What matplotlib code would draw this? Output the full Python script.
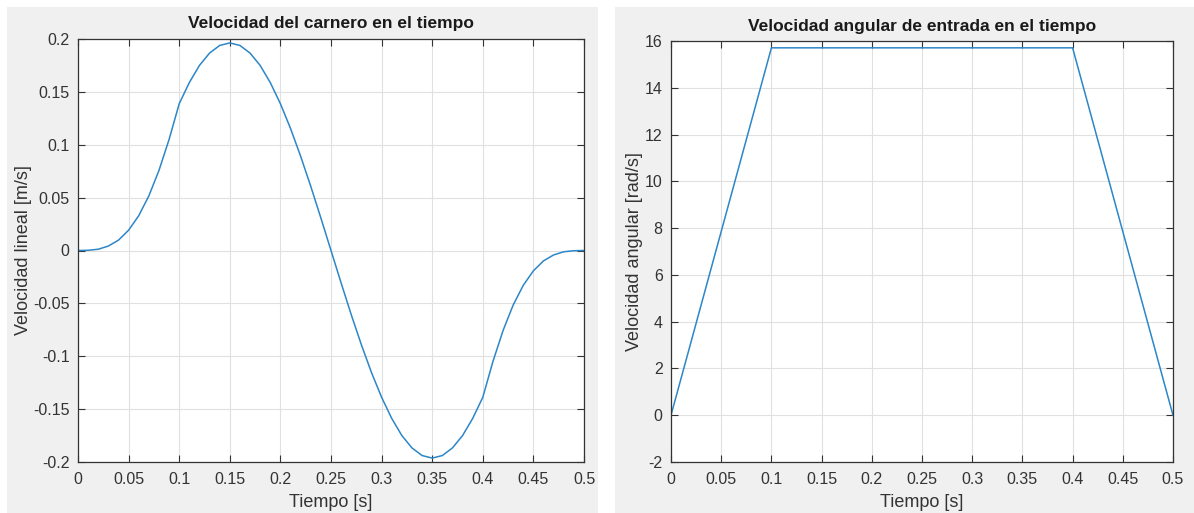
import matplotlib.pyplot as plt
from matplotlib.patches import Rectangle

# Velocidad del carnero (lectura del grafico, cada 0.01 s)
t_lin = [0.00, 0.01, 0.02, 0.03, 0.04, 0.05, 0.06, 0.07, 0.08, 0.09,
         0.10, 0.11, 0.12, 0.13, 0.14, 0.15, 0.16, 0.17, 0.18, 0.19,
         0.20, 0.21, 0.22, 0.23, 0.24, 0.25, 0.26, 0.27, 0.28, 0.29,
         0.30, 0.31, 0.32, 0.33, 0.34, 0.35, 0.36, 0.37, 0.38, 0.39,
         0.40, 0.41, 0.42, 0.43, 0.44, 0.45, 0.46, 0.47, 0.48, 0.49, 0.50]
v_lin = [0.0, 0.0002, 0.0012, 0.0042, 0.0098, 0.0192, 0.0329, 0.0516, 0.0757, 0.1050,
         0.1388, 0.1588, 0.1750, 0.1867, 0.1939, 0.1963, 0.1939, 0.1867, 0.1750, 0.1588,
         0.1388, 0.1154, 0.0891, 0.0607, 0.0307, 0.0, -0.0307, -0.0607, -0.0891, -0.1154,
         -0.1388, -0.1588, -0.1750, -0.1867, -0.1939, -0.1963, -0.1939, -0.1867, -0.1750, -0.1588,
         -0.1388, -0.1050, -0.0757, -0.0516, -0.0329, -0.0192, -0.0098, -0.0042, -0.0012, -0.0002, 0.0]

# Velocidad angular de entrada
t_ang = [0.0, 0.1, 0.4, 0.5]
w_ang = [0.0, 15.708, 15.708, 0.0]

x_ticks = [0, 0.05, 0.1, 0.15, 0.2, 0.25, 0.3, 0.35, 0.4, 0.45, 0.5]
x_labels = ['0', '0.05', '0.1', '0.15', '0.2', '0.25', '0.3', '0.35', '0.4', '0.45', '0.5']
y1_ticks = [-0.2, -0.15, -0.1, -0.05, 0, 0.05, 0.1, 0.15, 0.2]
y1_labels = ['-0.2', '-0.15', '-0.1', '-0.05', '0', '0.05', '0.1', '0.15', '0.2']
y2_ticks = [-2, 0, 2, 4, 6, 8, 10, 12, 14, 16]
y2_labels = ['-2', '0', '2', '4', '6', '8', '10', '12', '14', '16']

plt.rcParams['font.family'] = ['Liberation Sans', 'DejaVu Sans']

W, H = 1194, 513
fig = plt.figure(figsize=(W / 100, H / 100), dpi=100)
fig.patch.set_facecolor('white')

# fondos grises estilo MATLAB
for x0, x1 in [(7, 598), (615, 1194)]:
    fig.add_artist(Rectangle((x0 / W, 0), (x1 - x0) / W, (H - 7) / H,
                             transform=fig.transFigure, facecolor='#F0F0F0',
                             edgecolor='none', zorder=-10))


def style(ax, yt, yl):
    ax.set_xticks(x_ticks)
    ax.set_xticklabels(x_labels)
    ax.set_yticks(yt)
    ax.set_yticklabels(yl)
    ax.tick_params(direction='in', top=True, right=True, length=5, width=0.8,
                   colors='#333333', labelsize=11.5)
    ax.tick_params(axis='x', pad=7)
    ax.tick_params(axis='y', pad=6)
    for s in ax.spines.values():
        s.set_color('#333333')
        s.set_linewidth(0.9)
    ax.grid(True, color='#E0E0E0', linewidth=0.8)
    ax.set_axisbelow(True)
    ax.set_xlabel('Tiempo [s]', fontsize=13, color='#333333', labelpad=5)


ax1 = fig.add_axes([78 / W, (H - 462) / H, (584 - 78) / W, (462 - 39) / H])
ax1.plot(t_lin, v_lin, color='#2C86C8', linewidth=1.1)
ax1.set_xlim(0, 0.5)
ax1.set_ylim(-0.2, 0.2)
style(ax1, y1_ticks, y1_labels)
ax1.set_ylabel('Velocidad lineal [m/s]', fontsize=13, color='#333333', labelpad=1)
ax1.set_title('Velocidad del carnero en el tiempo', fontsize=12.5,
              fontweight='bold', color='#1a1a1a', pad=8)

ax2 = fig.add_axes([671 / W, (H - 462) / H, (1173 - 671) / W, (462 - 41) / H])
ax2.plot(t_ang, w_ang, color='#2C86C8', linewidth=1.1)
ax2.set_xlim(0, 0.5)
ax2.set_ylim(-2, 16)
style(ax2, y2_ticks, y2_labels)
ax2.set_ylabel('Velocidad angular [rad/s]', fontsize=13, color='#333333', labelpad=1)
ax2.set_title('Velocidad angular de entrada en el tiempo', fontsize=12.5,
              fontweight='bold', color='#1a1a1a', pad=7)

fig.savefig('out.png', dpi=100)
